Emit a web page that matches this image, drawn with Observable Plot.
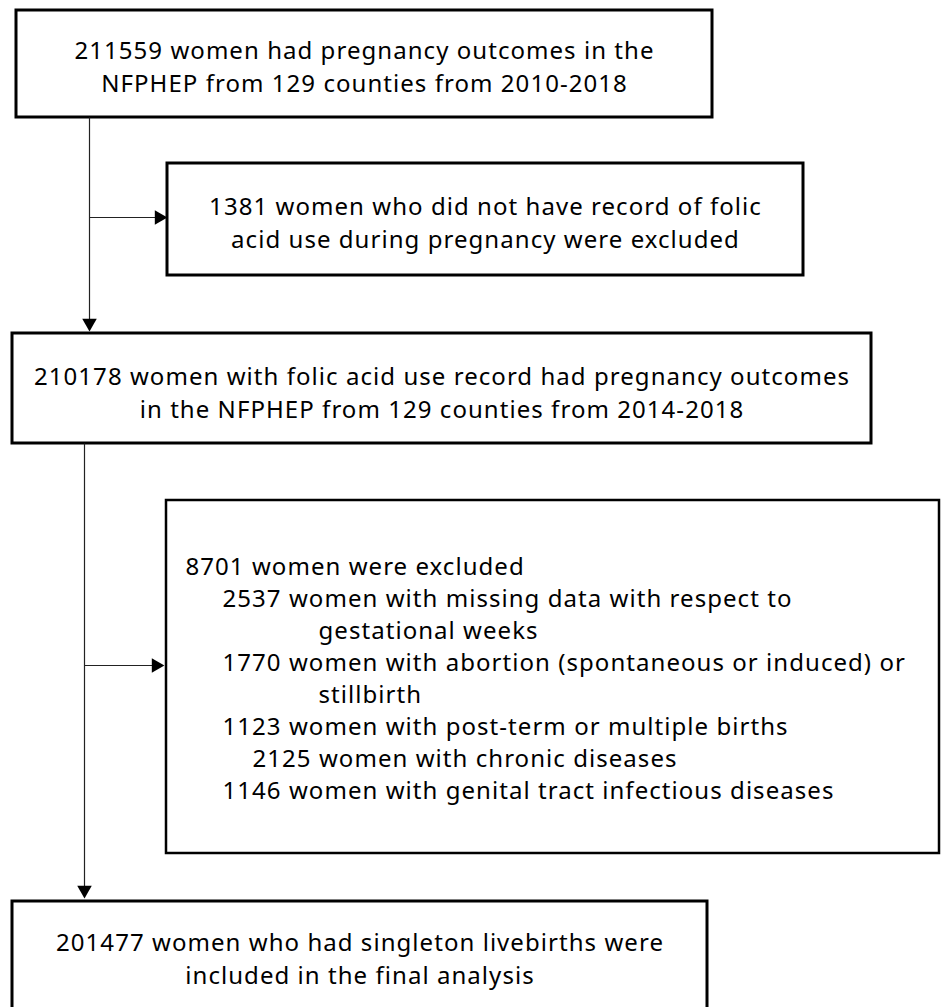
<!DOCTYPE html>
<html>
<head>
<meta charset="utf-8">
<script src="https://cdn.jsdelivr.net/npm/d3@7"></script>
<script src="https://cdn.jsdelivr.net/npm/@observablehq/plot@0.6"></script>
<style>
  html, body { margin: 0; padding: 0; background: #fff; overflow: hidden; }
  #chart svg { display: block; }
  #chart svg text { letter-spacing: 1.05px; }
</style>
</head>
<body>
<div id="chart"></div>
<script>
// ---- data ----
const totalWomen = 211559;
const noFolicRecord = 1381;
const withFolicRecord = 210178;
const excludedTotal = 8701;
const finalIncluded = 201477;
const counties = 129;

const exclusionCounts = [2537, 1770, 1123, 2125, 1146];
const exclusionReasons = [
  ["women with missing data with respect to", "gestational weeks"],
  ["women with abortion (spontaneous or induced) or", "stillbirth"],
  ["women with post-term or multiple births"],
  ["women with chronic diseases"],
  ["women with genital tract infectious diseases"]
];

const mainTexts = [
  `${totalWomen} women had pregnancy outcomes in the\nNFPHEP from ${counties} counties from 2010-2018`,
  `${noFolicRecord} women who did not have record of folic\nacid use during pregnancy were excluded`,
  `${withFolicRecord} women with folic acid use record had pregnancy outcomes\nin the NFPHEP from ${counties} counties from 2014-2018`,
  `${finalIncluded} women who had singleton livebirths were\nincluded in the final analysis`
];

// ---- layout (pixel frame) ----
const W = 941, H = 1007;
const boxes = [
  {x1: 16, x2: 712, y1: 10, y2: 117, sw: 3, text: mainTexts[0], ty: 64.5},
  {x1: 167, x2: 803, y1: 163, y2: 275, sw: 3, text: mainTexts[1], ty: 220.5},
  {x1: 12, x2: 871, y1: 333, y2: 443, sw: 3, text: mainTexts[2], ty: 390},
  {x1: 166, x2: 939, y1: 500, y2: 853, sw: 2.5, text: "", ty: 0},
  {x1: 12, x2: 707, y1: 901, y2: 1015, sw: 3, text: mainTexts[3], ty: 956.5}
];

// exclusion list lines (left aligned inside box 4)
const listLines = [{text: `${excludedTotal} women were excluded`, x: 185}];
const itemIndent = [222, 222, 222, 252, 222];
exclusionCounts.forEach((c, i) => {
  exclusionReasons[i].forEach((t, j) => {
    listLines.push(j === 0 ? {text: `${c} ${t}`, x: itemIndent[i]} : {text: t, x: 318});
  });
});
listLines.forEach((d, i) => d.y = 566.5 + 32 * i);

const segments = [
  {x1: 89, y1: 117, x2: 89, y2: 322},
  {x1: 89, y1: 217, x2: 155, y2: 217},
  {x1: 84, y1: 443, x2: 84, y2: 890},
  {x1: 84, y1: 665, x2: 152, y2: 665}
];
const heads = [
  {x: 89, y: 322.5, rot: 180},
  {x: 158.5, y: 217, rot: 90},
  {x: 84, y: 889.5, rot: 180},
  {x: 155.5, y: 665, rot: 90}
];

const font = "'Noto Sans', 'Open Sans', sans-serif";

const chart = Plot.plot({
  width: W, height: H,
  margin: 0,
  x: {domain: [0, W], range: [0, W], axis: null},
  y: {domain: [0, H], range: [0, H], axis: null},
  style: {fontFamily: font, background: "#fff"},
  marks: [
    Plot.rect(boxes, {x1: "x1", x2: "x2", y1: "y1", y2: "y2", fill: "#fff", stroke: "#000", strokeWidth: d => d.sw, clip: true}),
    Plot.link(segments, {x1: "x1", y1: "y1", x2: "x2", y2: "y2", stroke: "#222", strokeWidth: 1.2}),
    Plot.dot(heads, {x: "x", y: "y", rotate: "rot", symbol: "triangle", r: 5.4, fill: "#000", stroke: null}),
    Plot.text(boxes.filter(d => d.text), {x: d => (d.x1 + d.x2) / 2, y: "ty", text: "text", fontSize: 24, lineHeight: 1.375, fill: "#000", textAnchor: "middle"}),
    Plot.text(listLines, {x: "x", y: "y", text: "text", fontSize: 24, textAnchor: "start", fill: "#000"})
  ]
});
document.getElementById("chart").appendChild(chart);
</script>
</body>
</html>
